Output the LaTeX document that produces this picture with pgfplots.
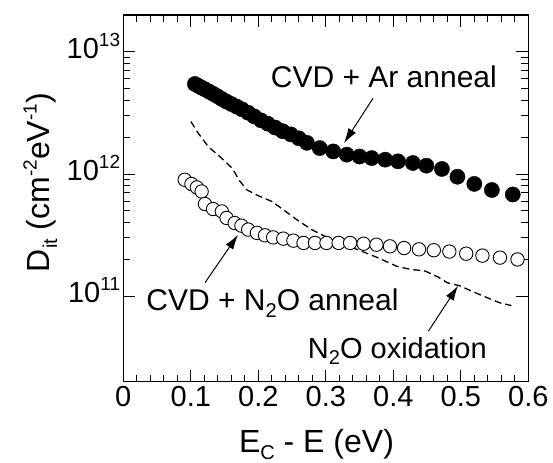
\documentclass[border=0pt]{standalone}
\usepackage{pgfplots}
\pgfplotsset{compat=1.18}
\usepackage{fontspec}
\setmainfont{Liberation Sans}
\usetikzlibrary{arrows.meta}
\newcommand\sups[1]{\raisebox{0.42em}{\fontsize{19bp}{20bp}\selectfont #1}}
\newcommand\subs[1]{\raisebox{-0.22em}{\fontsize{20bp}{21bp}\selectfont #1}}
\begin{document}
\begin{tikzpicture}
\begin{axis}[name=ax, scale only axis, width=405bp, height=366.7bp,
  xmin=0, xmax=0.6, ymin=2e10, ymax=2e13, ymode=log,
  xtick={0,0.1,0.2,0.3,0.4,0.5,0.6}, xticklabels={0,0.1,0.2,0.3,0.4,0.5,0.6},
  minor x tick num=4,
  ytick={1e11,1e12,1e13}, yticklabels={10\sups{11},10\sups{12},10\sups{13}},
  tick align=inside,
  axis line style={line width=1.6bp},
  tick style={line width=1bp, black},
  major tick length=12bp, minor tick length=7bp,
  tick label style={font=\fontsize{29bp}{34bp}\selectfont},
  xticklabel style={inner sep=1bp, yshift=-3bp},
  yticklabel style={anchor=base east, inner sep=0pt, xshift=-3bp, yshift=-6.5bp},
  xlabel={E\subs{C} - E (eV)},
  ylabel={D\subs{it} (cm\sups{-2}eV\sups{-1})},
  every axis x label/.style={at={(axis description cs:0.477,-0.192)}, anchor=base, font=\fontsize{32bp}{38bp}\selectfont},
  every axis y label/.style={at={(axis description cs:-0.181,0.543)}, anchor=base, rotate=90, font=\fontsize{32bp}{38bp}\selectfont},
  clip=false,
]
% N2O oxidation (dashed)
\addplot[black, line width=1.3bp, dash pattern=on 7bp off 4bp] coordinates {
(0.100,2.69e12) (0.111,2.16e12) (0.126,1.67e12) (0.143,1.39e12) (0.161,1.12e12)
(0.173,8.69e11) (0.183,7.43e11) (0.200,6.64e11) (0.220,5.97e11) (0.237,5.11e11)
(0.257,4.23e11) (0.279,3.51e11) (0.300,3.07e11) (0.320,2.74e11) (0.341,2.48e11)
(0.375,2.09e11) (0.405,1.76e11) (0.425,1.66e11) (0.447,1.61e11) (0.466,1.44e11)
(0.480,1.29e11) (0.498,1.22e11) (0.530,1.02e11) (0.558,8.83e10) (0.575,8.39e10)
};
% CVD + N2O anneal (open circles)
\addplot[only marks, mark=*, mark size=6.7bp, mark options={fill=white, draw=black, line width=0.9bp}] coordinates {
(0.091,8.97e11) (0.101,8.28e11) (0.109,7.77e11) (0.116,7.20e11) (0.121,5.68e11)
(0.133,5.17e11) (0.146,4.94e11) (0.153,4.37e11) (0.165,3.97e11) (0.175,3.78e11)
(0.185,3.51e11) (0.198,3.30e11) (0.210,3.15e11) (0.222,3.03e11) (0.237,2.96e11)
(0.252,2.85e11) (0.267,2.73e11) (0.284,2.73e11) (0.301,2.73e11) (0.319,2.73e11)
(0.336,2.73e11) (0.356,2.69e11) (0.375,2.64e11) (0.395,2.56e11) (0.416,2.48e11)
(0.438,2.42e11) (0.460,2.38e11) (0.483,2.32e11) (0.508,2.23e11) (0.532,2.15e11)
(0.558,2.07e11) (0.584,2.00e11)
};
% CVD + Ar anneal (filled circles)
\addplot[only marks, mark=*, mark size=7.6bp, black] coordinates {
(0.106,5.45e12) (0.111,5.27e12) (0.116,5.09e12) (0.121,4.93e12) (0.127,4.73e12)
(0.133,4.53e12) (0.139,4.34e12) (0.146,4.11e12) (0.153,3.91e12) (0.160,3.74e12)
(0.168,3.56e12) (0.176,3.38e12) (0.185,3.17e12) (0.194,2.96e12) (0.204,2.75e12)
(0.214,2.58e12) (0.225,2.40e12) (0.236,2.24e12) (0.248,2.11e12) (0.260,1.96e12)
(0.272,1.80e12) (0.291,1.63e12) (0.311,1.53e12) (0.331,1.44e12) (0.350,1.39e12)
(0.368,1.35e12) (0.388,1.31e12) (0.407,1.27e12) (0.429,1.23e12) (0.449,1.17e12)
(0.472,1.10e12) (0.495,9.5e11) (0.520,8.3e11) (0.546,7.4e11) (0.577,6.8e11)
};
\node[anchor=base, font=\fontsize{30bp}{36bp}\selectfont] at (axis cs:0.386,5.15e12) {CVD + Ar anneal};
\draw[-{Latex[length=15bp,width=9bp]}, line width=1bp] (axis cs:0.370,4.17e12) -- (axis cs:0.327,1.79e12);
\node[anchor=base, font=\fontsize{30bp}{36bp}\selectfont] at (axis cs:0.221,7.64e10) {CVD + N\subs{2}O anneal};
\draw[-{Latex[length=15bp,width=9bp]}, line width=1bp] (axis cs:0.121,1.29e11) -- (axis cs:0.170,3.19e11);
\node[anchor=base, font=\fontsize{29bp}{35bp}\selectfont] at (axis cs:0.406,3.10e10) {N\subs{2}O oxidation};
\draw[-{Latex[length=15bp,width=9bp]}, line width=1bp] (axis cs:0.452,5.18e10) -- (axis cs:0.496,1.22e11);
\end{axis}
\pgfresetboundingbox
\path[use as bounding box] ([xshift=-123.3bp,yshift=-80.3bp]ax.south west) rectangle ([xshift=24.7bp,yshift=15bp]ax.north east);
\end{tikzpicture}
\end{document}
